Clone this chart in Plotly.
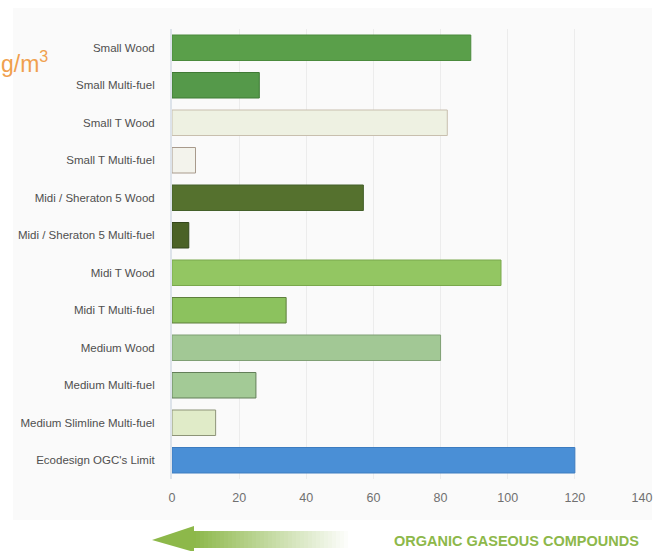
import plotly.graph_objects as go

categories = [
    "Small Wood", "Small Multi-fuel", "Small T Wood", "Small T Multi-fuel",
    "Midi / Sheraton 5 Wood", "Midi / Sheraton 5 Multi-fuel", "Midi T Wood",
    "Midi T Multi-fuel", "Medium Wood", "Medium Multi-fuel",
    "Medium Slimline Multi-fuel", "Ecodesign OGC's Limit",
]
values = [89, 26, 82, 7, 57, 5, 98, 34, 80, 25, 13, 120]
bar_colors = [
    "#5a9f4a", "#55994a", "#eef1e2", "#f3f3ec", "#55712e", "#4a6226",
    "#93c662", "#8cc25e", "#a2c895", "#a3ca96", "#e0ebc8", "#4a8fd6",
]
edge_colors = [
    "#4a8a3c", "#3f7a35", "#c8bfae", "#a89a8c", "#44602a", "#33471c",
    "#7aa84c", "#5e7f3c", "#7f9f74", "#637f59", "#8d9478", "#3d7cc0",
]
tick_vals = [0, 20, 40, 60, 80, 100, 120, 140]
tick_text = ["0", "20", "40", "60", "80", "100", "120", "140"]

fig = go.Figure(go.Bar(
    x=values, y=categories, orientation="h",
    marker=dict(color=bar_colors, line=dict(color=edge_colors, width=1)),
    hoverinfo="x+y",
))

# plot-area pixel geometry for decorative shapes
L, R, T, B = 172, 642, 29, 479
def px(xp):
    return (xp - L) / (R - L)
def py(yp):
    return (B - yp) / (B - T)

shapes = []
# light background panel
shapes.append(dict(type="rect", xref="paper", yref="paper",
                   x0=px(13), x1=px(652), y0=py(520), y1=py(8),
                   fillcolor="#fafafa", line=dict(width=0), layer="below"))
# gradient arrow shaft
n = 40
x_start, x_end = 192, 352
c0 = (141, 184, 74)
for i in range(n):
    t = i / (n - 1)
    col = tuple(int(c0[k] + (255 - c0[k]) * t) for k in range(3))
    shapes.append(dict(type="rect", xref="paper", yref="paper",
                       x0=px(x_start + (x_end - x_start) * i / n),
                       x1=px(x_start + (x_end - x_start) * (i + 1) / n + 0.5),
                       y0=py(548), y1=py(531),
                       fillcolor="rgb(%d,%d,%d)" % col, line=dict(width=0)))
# arrow head
shapes.append(dict(type="path", xref="paper", yref="paper",
                   path="M %f %f L %f %f L %f %f Z" % (
                       px(152), py(540), px(194), py(526), px(194), py(552)),
                   fillcolor="#8db84a", line=dict(width=0)))

fig.update_layout(
    width=662, height=551,
    margin=dict(l=L, r=662 - R, t=T, b=551 - B, autoexpand=False),
    paper_bgcolor="#ffffff", plot_bgcolor="rgba(0,0,0,0)",
    font=dict(family="Liberation Sans, Arial, sans-serif", color="#555555"),
    bargap=0.32,
    showlegend=False,
    shapes=shapes,
    annotations=[
        dict(text="g/m<sup>3</sup>", xref="paper", yref="paper",
             x=px(-1), y=py(62), xanchor="left", yanchor="middle",
             showarrow=False, font=dict(size=23, color="#f0a04e")),
        dict(text="<b>ORGANIC GASEOUS COMPOUNDS</b>", xref="paper", yref="paper",
             x=px(641), y=py(541), xanchor="right", yanchor="middle",
             showarrow=False, font=dict(size=14.5, color="#8db84a")),
    ],
    xaxis=dict(range=[0, 140], tickvals=tick_vals, ticktext=tick_text,
               showgrid=True, gridcolor="#ececec", gridwidth=1,
               zeroline=False, showline=False, ticks="",
               tickfont=dict(size=12.5, color="#707070"), ticklabelstandoff=9),
    yaxis=dict(categoryorder="array", categoryarray=categories[::-1],
               showgrid=False, showline=True, linecolor="#dde3ea", linewidth=2,
               ticks="", tickfont=dict(size=11.5, color="#4f4f4f"),
               ticklabelstandoff=13),
)

fig.write_html("out.html", config={"displayModeBar": False},
               post_script="document.body.style.margin='0';document.body.style.padding='0';")
